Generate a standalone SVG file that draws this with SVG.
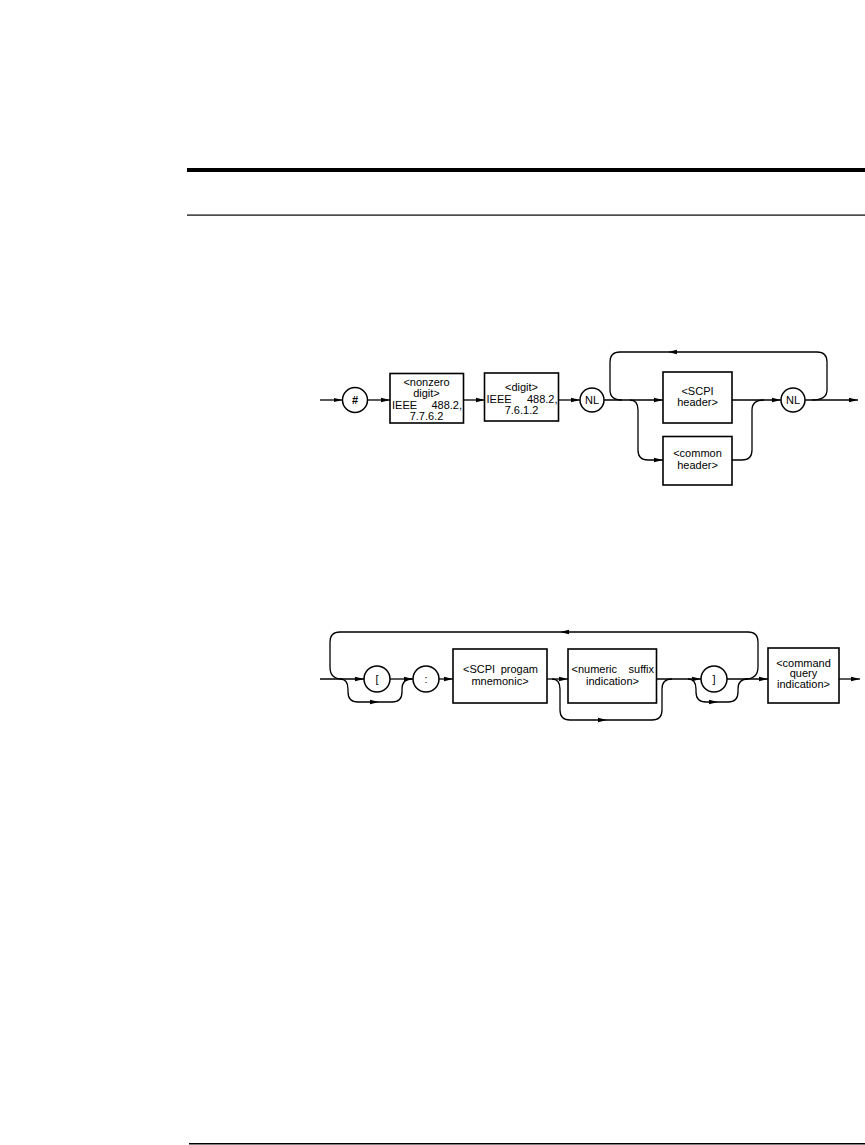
<svg xmlns="http://www.w3.org/2000/svg" width="865" height="1145" viewBox="0 0 865 1145">
<defs>
<marker id="ah" markerWidth="10" markerHeight="6" refX="9" refY="3" orient="auto" markerUnits="userSpaceOnUse">
<path d="M0,0.8 L9,3 L0,5.2 Z" fill="#000"/>
</marker>
<style>
.ln{fill:none;stroke:#000;stroke-width:1.3}
.ar{fill:none;stroke:#000;stroke-width:1.3;marker-end:url(#ah)}
.bx{fill:#fff;stroke:#000;stroke-width:1.6}
.ci{fill:#fff;stroke:#000;stroke-width:1.5}
text{font-family:"Liberation Sans",Arial,sans-serif;font-size:11px;fill:#000}
.c{text-anchor:middle}
.e{text-anchor:end}
</style>
</defs>
<rect width="865" height="1145" fill="#fff"/>
<g id="rules">
<rect x="187" y="168" width="678" height="4" fill="#000"/>
<rect x="187" y="214.5" width="678" height="1.2" fill="#000"/>
<rect x="189" y="1143" width="676" height="1.5" fill="#000"/>
</g>
<g id="connectors">
<path class="ar" d="M320,400 H342.5"/>
<path class="ar" d="M367.5,400 H390"/>
<path class="ar" d="M463,400 H485"/>
<path class="ar" d="M558,400 H580"/>
<path class="ar" d="M604,400 H663"/>
<path class="ar" d="M812,400 Q827,400 827,390 V362 Q827,352 817,352 H668"/>
<path class="ln" d="M668,352 H620 Q610,352 610,362 V390 Q610,400 622,400"/>
<path class="ar" d="M630,400 Q638,400 638,410 V450 Q638,460 648,460 H663"/>
<path class="ar" d="M732,400 H781"/>
<path class="ln" d="M732,460 H742 Q752,460 752,450 V410 Q752,400 764,400"/>
<path class="ar" d="M805,400 H858"/>
<path class="ar" d="M320,679 H364"/>
<path class="ar" d="M745,679 Q758,679 758,667 V642 Q758,632 748,632 H560"/>
<path class="ln" d="M560,632 H340 Q330,632 330,642 V667 Q330,679 342,679"/>
<path class="ar" d="M340,679 Q348,679 348,689 V692 Q348,702 358,702 H379"/>
<path class="ln" d="M379,702 H392 Q402,702 402,692 V689 Q402,679 412,679"/>
<path class="ar" d="M390,679 H413"/>
<path class="ar" d="M439,679 H453"/>
<path class="ar" d="M547,679 H568"/>
<path class="ar" d="M552,679 Q560,679 560,689 V710 Q560,720 570,720 H607"/>
<path class="ln" d="M607,720 H652 Q662,720 662,710 V689 Q662,679 672,679"/>
<path class="ar" d="M657,679 H701"/>
<path class="ar" d="M688,679 Q696,679 696,689 V692 Q696,702 706,702 H718"/>
<path class="ln" d="M718,702 H728 Q738,702 738,692 V689 Q738,679 748,679"/>
<path class="ar" d="M727,679 H768"/>
<path class="ar" d="M839,679 H860"/>
</g>
<g id="hash">
<circle class="ci" cx="355" cy="400" r="12.5"/>
<text class="c" x="355" y="404" font-weight="bold">#</text>
</g>
<g id="nonzero">
<rect class="bx" x="390" y="373.5" width="73.5" height="49.5"/>
<text class="c" x="426.5" y="386">&lt;nonzero</text>
<text class="c" x="426.5" y="397">digit&gt;</text>
<text x="392" y="408.5">IEEE</text>
<text class="e" x="462" y="408.5">488.2,</text>
<text class="c" x="426.5" y="420">7.7.6.2</text>
</g>
<g id="digit">
<rect class="bx" x="484.5" y="373" width="74" height="48"/>
<text class="c" x="521.5" y="391">&lt;digit&gt;</text>
<text x="486.5" y="402.5">IEEE</text>
<text class="e" x="557.5" y="402.5">488.2,</text>
<text class="c" x="521.5" y="414">7.6.1.2</text>
</g>
<g id="nl1">
<circle class="ci" cx="592" cy="400" r="12"/>
<text class="c" x="592" y="404">NL</text>
</g>
<g id="scpiheader">
<rect class="bx" x="663" y="372" width="69" height="51"/>
<text class="c" x="697.5" y="394.5">&lt;SCPI</text>
<text class="c" x="697.5" y="406">header&gt;</text>
</g>
<g id="commonheader">
<rect class="bx" x="663" y="436.5" width="69" height="48.5"/>
<text class="c" x="697.5" y="457">&lt;common</text>
<text class="c" x="697.5" y="468.5">header&gt;</text>
</g>
<g id="nl2">
<circle class="ci" cx="793" cy="400" r="12"/>
<text class="c" x="793" y="404">NL</text>
</g>
<g id="lbracket">
<circle class="ci" cx="377" cy="679" r="13"/>
<text class="c" x="377" y="683">[</text>
</g>
<g id="colon">
<circle class="ci" cx="426" cy="679" r="13"/>
<text class="c" x="426" y="683">:</text>
</g>
<g id="mnemonic">
<rect class="bx" x="453" y="649" width="94" height="54"/>
<text x="463" y="673">&lt;SCPI</text>
<text class="e" x="538" y="673">progam</text>
<text class="c" x="500" y="684.5">mnemonic&gt;</text>
</g>
<g id="suffix">
<rect class="bx" x="568" y="649" width="88.5" height="54"/>
<text x="571.5" y="673">&lt;numeric</text>
<text class="e" x="654" y="673">suffix</text>
<text class="c" x="612.5" y="684.5">indication&gt;</text>
</g>
<g id="rbracket">
<circle class="ci" cx="714" cy="679" r="13"/>
<text class="c" x="714" y="683">]</text>
</g>
<g id="query">
<rect class="bx" x="768" y="648" width="71" height="55"/>
<text class="c" x="803.5" y="666.5">&lt;command</text>
<text class="c" x="803.5" y="677">query</text>
<text class="c" x="803.5" y="688">indication&gt;</text>
</g>
</svg>
